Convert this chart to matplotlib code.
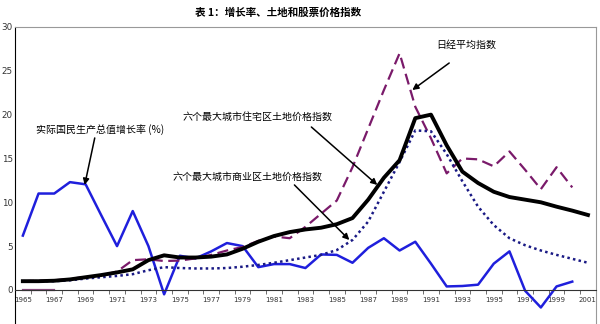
import numpy as np
import matplotlib
matplotlib.use('Agg')
import matplotlib.pyplot as plt
from matplotlib.ticker import FixedLocator

plt.rcParams['font.family'] = ['Noto Sans CJK SC', 'DejaVu Sans']

# data
years = list(range(1965, 2002))
gnp_growth = [6.2, 11.0, 11.0, 12.3, 12.05, 8.5, 5.0, 9.0, 5.0, -0.5,
              3.9, 3.6, 4.4, 5.35, 5.0, 2.6, 2.95, 2.95, 2.5, 4.05,
              4.0, 3.1, 4.8, 5.9, 4.5, 5.5, 3.0, 0.4, 0.45, 0.6,
              3.0, 4.4, -0.1, -2.0, 0.4, 0.95]
residential = [1.0, 1.0, 1.05, 1.2, 1.45, 1.7, 2.0, 2.35, 3.4, 3.95,
               3.7, 3.7, 3.8, 4.05, 4.7, 5.5, 6.15, 6.6, 6.9, 7.1,
               7.5, 8.2, 10.3, 12.8, 14.8, 19.6, 20.0, 16.5, 13.5, 12.2,
               11.2, 10.6, 10.3, 10.0, 9.5, 9.05, 8.55]
commercial = [1.0, 1.0, 1.0, 1.1, 1.3, 1.45, 1.6, 1.8, 2.25, 2.6,
              2.5, 2.45, 2.45, 2.5, 2.65, 2.85, 3.1, 3.4, 3.7, 4.0,
              4.55, 5.7, 7.8, 11.2, 14.6, 18.2, 18.1, 15.5, 12.4, 9.5,
              7.4, 5.9, 5.1, 4.5, 4.0, 3.55, 3.1]
nikkei = [1.0, 1.05, 1.1, 1.25, 1.5, 1.65, 2.1, 3.4, 3.5, 3.3,
          3.35, 3.6, 4.0, 4.5, 4.9, 5.6, 6.1, 5.9, 7.2, 8.7,
          10.2, 14.0, 18.4, 22.8, 27.0, 20.9, 17.3, 13.3, 15.0, 14.9,
          14.1, 15.8, 13.7, 11.5, 14.0, 11.7]
nikkei_stub = [0, 0, 0]

label_years = list(range(1965, 2002, 2))
y_ticks = [0, 5, 10, 15, 20, 25, 30]

title = '表 1：增长率、土地和股票价格指数'
lbl_gnp = '实际国民生产总值增长率 (%)'
lbl_res = '六个最大城市住宅区土地价格指数'
lbl_com = '六个最大城市商业区土地价格指数'
lbl_nik = '日经平均指数'

fig = plt.figure(figsize=(6, 3.24), dpi=100)
ax = fig.add_axes([0.025, -0.0031, 0.968, 0.9198])

ax.plot(years[:len(gnp_growth)], gnp_growth, color='#1f1fdc', lw=1.8)
ax.plot(years[:3], nikkei_stub, color='#8a4a80', lw=1.6)
ax.plot(years[:len(nikkei)], nikkei, color='#7a1a6a', lw=1.6, ls=(0, (5, 2.5)))
ax.plot(years, commercial, color='#1a1a85', lw=1.8, ls=(0, (1, 1.3)))
ax.plot(years, residential, color='black', lw=2.8)

ax.set_xlim(1964.5, 2001.5)
ax.set_ylim(-4, 30)

ax.spines['bottom'].set_position(('data', 0))
ax.spines['bottom'].set_color('#333333')
ax.spines['left'].set_color('black')
ax.spines['top'].set_color('#999999')
ax.spines['right'].set_color('#999999')

ax.xaxis.set_major_locator(FixedLocator(label_years))
ax.set_xticklabels([str(y) for y in label_years], fontsize=5, family='DejaVu Sans')
ax.xaxis.set_minor_locator(FixedLocator(np.arange(1964.5, 2002, 1)))
ax.tick_params(axis='x', which='major', length=0, pad=5, colors='#333333')
ax.tick_params(axis='x', which='minor', length=3, direction='out', color='#555555')

ax.set_yticks(y_ticks)
ax.set_yticklabels([str(v) for v in y_ticks], fontsize=6.3, family='DejaVu Sans')
ax.tick_params(axis='y', length=0, pad=1.5, colors='#333333')

fig.text(0.463, 0.962, title, ha='center', va='center', fontsize=7.6, fontweight='bold')

txt = dict(ha='center', va='center', fontsize=7.2)
arr = dict(arrowstyle='-|>', color='black', lw=1.1, mutation_scale=9, shrinkA=0, shrinkB=0)

ax.text(1969.9, 18.25, lbl_gnp, **txt)
ax.annotate('', xy=(1968.94, 11.98), xytext=(1969.58, 17.34), arrowprops=arr)

ax.text(1979.95, 19.73, lbl_res, **txt)
ax.annotate('', xy=(1987.58, 11.98), xytext=(1983.38, 18.59), arrowprops=arr)

ax.text(1979.31, 12.89, lbl_com, **txt)
ax.annotate('', xy=(1985.8, 5.7), xytext=(1982.3, 11.98), arrowprops=arr)

ax.text(1993.24, 27.95, lbl_nik, **txt)
ax.annotate('', xy=(1989.81, 22.81), xytext=(1992.16, 25.89), arrowprops=arr)

fig.savefig('out.png', dpi=100)
